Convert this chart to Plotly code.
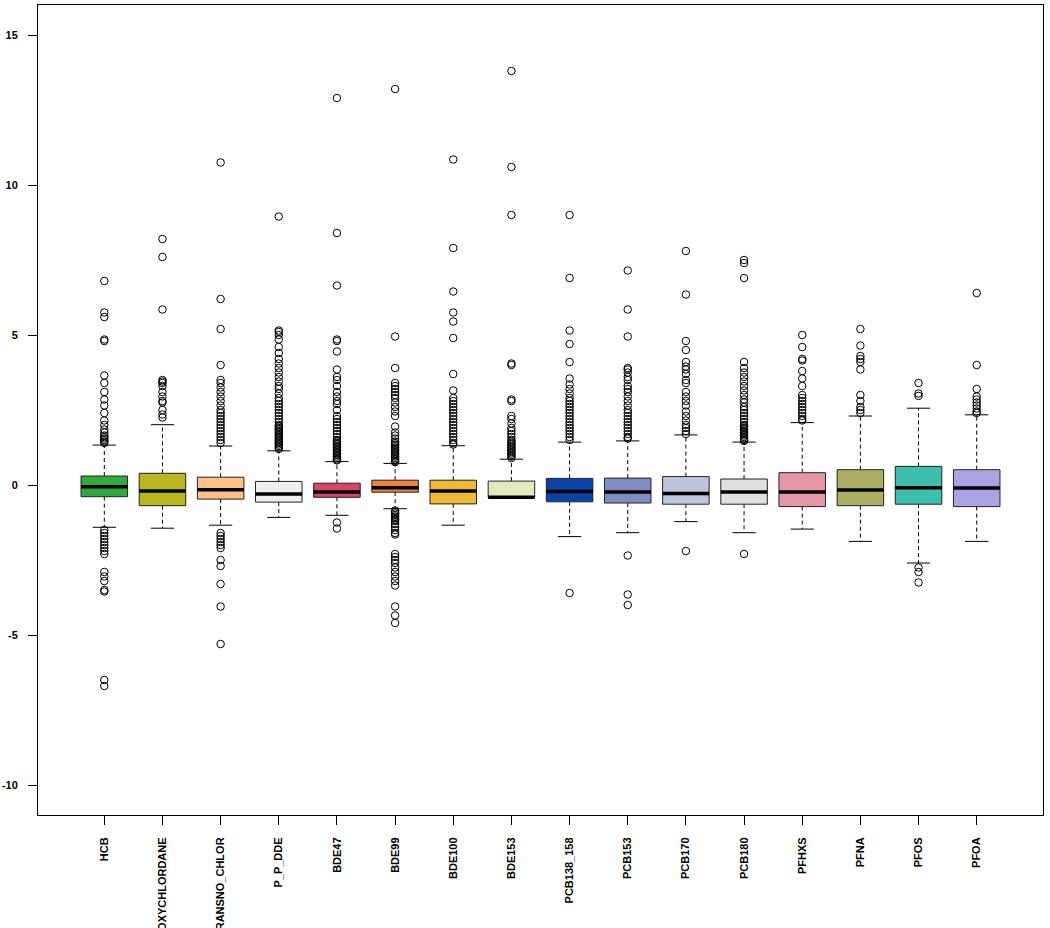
import plotly.graph_objects as go

# ---------------- data ----------------
categories = ["HCB", "OXYCHLORDANE", "TRANSNO_CHLOR", "P_P_DDE", "BDE47", "BDE99",
              "BDE100", "BDE153", "PCB138_158", "PCB153", "PCB170", "PCB180",
              "PFHXS", "PFNA", "PFOS", "PFOA"]

q3 = [0.30, 0.39, 0.26, 0.12, 0.06, 0.16, 0.16, 0.13, 0.22, 0.23, 0.28, 0.20, 0.41, 0.51, 0.62, 0.51]
median = [-0.06, -0.20, -0.16, -0.30, -0.23, -0.09, -0.20, -0.41, -0.22, -0.23, -0.28, -0.23, -0.23, -0.17, -0.09, -0.10]
q1 = [-0.39, -0.69, -0.47, -0.57, -0.41, -0.24, -0.63, -0.41, -0.56, -0.60, -0.64, -0.64, -0.72, -0.69, -0.64, -0.72]
upper_whisker = [1.33, 2.01, 1.30, 1.14, 0.78, 0.72, 1.31, 0.86, 1.43, 1.47, 1.67, 1.43, 2.08, 2.30, 2.56, 2.34]
lower_whisker = [-1.41, -1.44, -1.34, -1.08, -1.01, -0.79, -1.34, -0.41, -1.72, -1.59, -1.22, -1.59, -1.47, -1.88, -2.60, -1.88]

outliers_hcb = [6.8, 5.75, 5.6, 4.85, 4.8, 3.65, 3.4, 3.1, 2.85, 2.65, 2.4, 2.15, 2.0, 1.85, 1.75,
                1.65, 1.6, 1.55, 1.5, 1.45, 1.4,
                -1.5, -1.6, -1.7, -1.8, -1.9, -2.0, -2.1, -2.2, -2.3, -2.9, -3.05, -3.2, -3.5, -3.55, -6.5, -6.7]
outliers_oxy = [8.2, 7.6, 5.85, 3.5, 3.45, 3.4, 3.3, 3.1, 2.95, 2.8, 2.75, 2.5, 2.35, 2.25]
outliers_trans = [10.75, 6.2, 5.2, 4.0, 3.5, 3.4, 3.25, 3.1, 2.95, 2.8, 2.65, 2.5, 2.4, 2.3, 2.2, 2.1,
                  2.0, 1.9, 1.8, 1.7, 1.6, 1.5, 1.4,
                  -1.6, -1.7, -1.8, -1.9, -2.0, -2.1, -2.5, -2.7, -3.3, -4.05, -5.3]
outliers_dde = [8.95, 5.15, 5.1, 5.0, 4.85, 4.6, 4.4, 4.2, 4.05, 3.9, 3.75, 3.6, 3.45, 3.3, 3.2, 3.05,
                2.9, 2.8, 2.7, 2.6, 2.5, 2.4, 2.3, 2.2, 2.1, 2.0, 1.95, 1.9, 1.85, 1.8, 1.75, 1.7,
                1.65, 1.6, 1.55, 1.5, 1.45, 1.4, 1.35, 1.3, 1.25, 1.2]
outliers_bde47 = [12.9, 8.4, 6.65, 4.85, 4.8, 4.45, 3.85, 3.6, 3.5, 3.3, 3.1, 2.95, 2.8, 2.7, 2.5, 2.3,
                  2.2, 2.1, 2.0, 1.9, 1.8, 1.7, 1.6, 1.5, 1.45, 1.4, 1.35, 1.3, 1.25, 1.2, 1.15, 1.1,
                  1.05, 1.0, 0.95, 0.9, 0.85, 0.82, -1.25, -1.45]
outliers_bde99 = [13.2, 4.95, 3.9, 3.4, 3.3, 3.2, 3.1, 3.0, 2.9, 2.75, 2.6, 2.45, 2.3, 1.95, 1.75, 1.65,
                  1.55, 1.45, 1.4, 1.35, 1.3, 1.25, 1.2, 1.15, 1.1, 1.05, 1.0, 0.95, 0.9, 0.85, 0.8, 0.76,
                  -0.85, -0.9, -0.95, -1.0, -1.05, -1.1, -1.15, -1.2, -1.3, -1.4, -1.5, -1.6, -1.65,
                  -2.3, -2.4, -2.5, -2.6, -2.75, -2.9, -3.05, -3.2, -3.35, -4.05, -4.35, -4.6]
outliers_bde100 = [10.85, 7.9, 6.45, 5.75, 5.45, 4.9, 3.7, 3.15, 2.9, 2.8, 2.7, 2.6, 2.5, 2.4, 2.3, 2.2,
                   2.1, 2.0, 1.9, 1.8, 1.7, 1.6, 1.5, 1.4, 1.35]
outliers_bde153 = [13.8, 10.6, 9.0, 4.05, 4.0, 2.85, 2.8, 2.3, 2.2, 2.05, 1.9, 1.8, 1.7, 1.6, 1.5, 1.45,
                   1.4, 1.35, 1.3, 1.25, 1.2, 1.15, 1.1, 1.05, 1.0, 0.95, 0.9]
outliers_pcb138 = [9.0, 6.9, 5.15, 4.7, 4.1, 3.55, 3.35, 3.2, 3.05, 2.9, 2.8, 2.7, 2.6, 2.5, 2.4, 2.3,
                   2.2, 2.1, 2.0, 1.9, 1.8, 1.7, 1.6, 1.5, -3.6]
outliers_pcb153 = [7.15, 5.85, 4.95, 3.9, 3.85, 3.75, 3.6, 3.5, 3.3, 3.2, 3.1, 2.95, 2.8, 2.65, 2.5, 2.4,
                   2.3, 2.2, 2.1, 2.0, 1.9, 1.8, 1.7, 1.6, 1.55, -2.35, -3.65, -4.0]
outliers_pcb170 = [7.8, 6.35, 4.8, 4.5, 4.1, 3.95, 3.85, 3.7, 3.5, 3.4, 3.1, 2.95, 2.8, 2.65, 2.45, 2.3,
                   2.15, 2.0, 1.9, 1.8, 1.7, -2.2]
outliers_pcb180 = [7.5, 7.4, 6.9, 4.1, 3.9, 3.75, 3.6, 3.45, 3.3, 3.15, 3.0, 2.85, 2.75, 2.6, 2.5, 2.4,
                   2.3, 2.2, 2.1, 2.0, 1.95, 1.9, 1.85, 1.8, 1.75, 1.7, 1.65, 1.6, 1.55, 1.5, 1.47, -2.3]
outliers_pfhxs = [5.0, 4.6, 4.2, 4.15, 3.8, 3.55, 3.3, 3.0, 2.9, 2.8, 2.7, 2.6, 2.5, 2.4, 2.3, 2.2, 2.15]
outliers_pfna = [5.2, 4.65, 4.3, 4.2, 4.1, 3.85, 3.0, 2.8, 2.6, 2.5, 2.4]
outliers_pfos = [3.4, 3.05, 2.97, -2.75, -2.9, -3.25]
outliers_pfoa = [6.4, 4.0, 3.2, 2.95, 2.85, 2.75, 2.65, 2.55, 2.45, 2.4]

outliers = [outliers_hcb, outliers_oxy, outliers_trans, outliers_dde, outliers_bde47, outliers_bde99,
            outliers_bde100, outliers_bde153, outliers_pcb138, outliers_pcb153, outliers_pcb170,
            outliers_pcb180, outliers_pfhxs, outliers_pfna, outliers_pfos, outliers_pfoa]

colors = ["#2EAA3F", "#B8B81E", "#FDC086", "#F0F0F0", "#D9446B", "#EE8339", "#F0B934", "#E2E8C0",
          "#0A44A8", "#7F8CC4", "#BFC4DC", "#E0E0E0", "#E597A7", "#ABAE65", "#3DBFAE", "#ABA4E2"]

y_ticks = [-10, -5, 0, 5, 10, 15]

# ---------------- figure ----------------
HALF_BOX = 0.4      # boxwex 0.8
HALF_STAPLE = 0.2   # staplewex 0.5

fig = go.Figure()
for i, name in enumerate(categories):
    pos = i + 1
    # dashed whiskers
    fig.add_trace(go.Scatter(
        x=[pos, pos, None, pos, pos],
        y=[q3[i], upper_whisker[i], None, q1[i], lower_whisker[i]],
        mode="lines", line=dict(color="black", width=1, dash="4px,3px"), hoverinfo="skip"))
    # staples
    fig.add_trace(go.Scatter(
        x=[pos - HALF_STAPLE, pos + HALF_STAPLE, None, pos - HALF_STAPLE, pos + HALF_STAPLE],
        y=[upper_whisker[i], upper_whisker[i], None, lower_whisker[i], lower_whisker[i]],
        mode="lines", line=dict(color="black", width=1), hoverinfo="skip"))
    # box
    fig.add_trace(go.Scatter(
        x=[pos - HALF_BOX, pos + HALF_BOX, pos + HALF_BOX, pos - HALF_BOX, pos - HALF_BOX],
        y=[q1[i], q1[i], q3[i], q3[i], q1[i]],
        mode="lines", fill="toself", fillcolor=colors[i],
        line=dict(color="#222222", width=1), hoverinfo="skip"))
    # median
    fig.add_trace(go.Scatter(
        x=[pos - HALF_BOX, pos + HALF_BOX], y=[median[i], median[i]],
        mode="lines", line=dict(color="black", width=3.5), hoverinfo="skip"))
    # outliers
    fig.add_trace(go.Scatter(
        x=[pos] * len(outliers[i]), y=outliers[i], mode="markers",
        marker=dict(symbol="circle-open", size=7.5, color="black", line=dict(width=1)),
        hoverinfo="skip"))

font_family = "Liberation Sans, Arial, sans-serif"
fig.update_layout(
    width=1050, height=928,
    margin=dict(l=38, r=7, t=5, b=113),
    paper_bgcolor="white", plot_bgcolor="white",
    showlegend=False, hovermode=False,
    font=dict(family=font_family, size=11, color="black"),
    xaxis=dict(range=[-0.14, 17.14], tickmode="array",
               tickvals=list(range(1, len(categories) + 1)), ticktext=categories,
               tickangle=-90, ticks="outside", ticklen=9, tickcolor="black", tickwidth=1,
               showline=True, linecolor="black", linewidth=1, mirror=True,
               showgrid=False, zeroline=False, automargin=False,
               ticklabelstandoff=8,
               tickfont=dict(family=font_family, size=11, color="black", weight="bold")),
    yaxis=dict(range=[-11, 16], tickmode="array", tickvals=y_ticks,
               ticktext=[str(v) for v in y_ticks],
               ticks="outside", ticklen=9, tickcolor="black", tickwidth=1,
               showline=True, linecolor="black", linewidth=1, mirror=True,
               showgrid=False, zeroline=False, automargin=False,
               ticklabelstandoff=8,
               tickfont=dict(family=font_family, size=11, color="black", weight="bold")),
)

fig.write_html(
    "out.html",
    config={"displayModeBar": False},
    post_script="document.body.style.margin='0';document.body.style.overflow='hidden';",
)
